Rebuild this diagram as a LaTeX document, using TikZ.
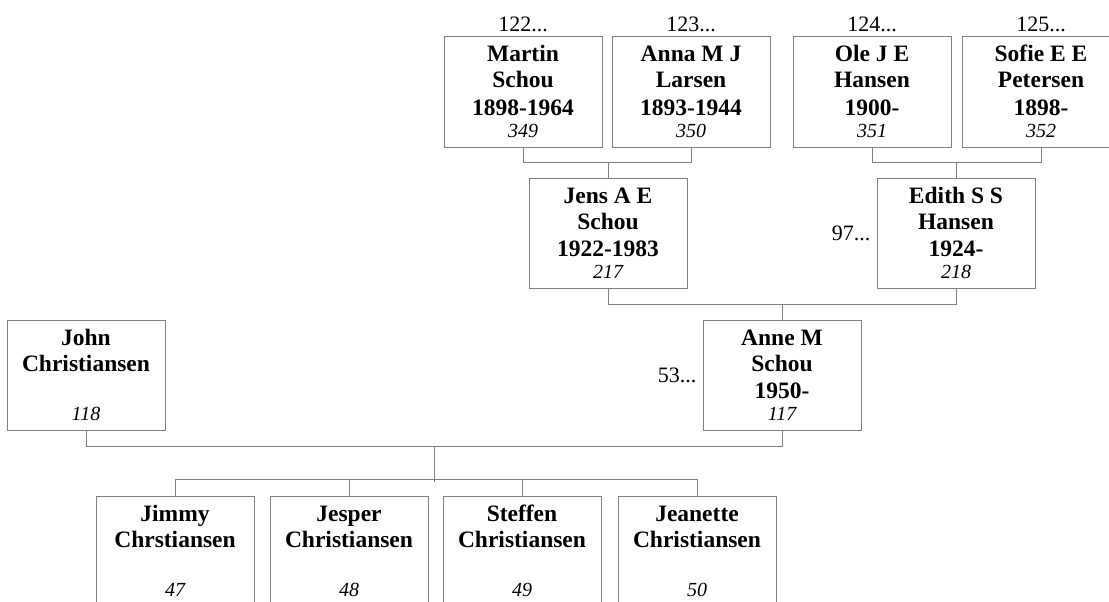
\documentclass[tikz,border=0pt]{standalone}
\usepackage{fontspec}
\setmainfont{Liberation Serif}
\usetikzlibrary{calc}
\definecolor{linegray}{RGB}{128,128,128}
\tikzset{
  pbox/.style={draw=linegray, line width=1pt, minimum width=158pt, minimum height=110pt, inner sep=0pt, fill=white},
  nm/.style={font=\fontsize{23.5}{26}\selectfont\bfseries, inner sep=0pt, anchor=base},
  num/.style={font=\fontsize{20}{24}\selectfont\itshape, inner sep=0pt, anchor=base},
  lbl/.style={font=\fontsize{22}{26}\selectfont, inner sep=0pt},
  conn/.style={draw=linegray, line width=1pt}
}
% #1 name, #2 left, #3 top, #4 #5 #6 lines, #7 number
\newcommand{\personbox}[7]{%
  \node[pbox] (#1) at ({#2+79},{#3+55}) {};
  \node[nm] (#1-a) at ({#2+79},{#3+25}) {#4};
  \node[nm] (#1-b) at ({#2+79},{#3+51}) {#5};
  \node[nm] (#1-c) at ({#2+79},{#3+78}) {#6};
  \node[num] (#1-d) at ({#2+79},{#3+100}) {#7};
}
\begin{document}
\begin{tikzpicture}[x=1pt,y=-1pt]
\useasboundingbox (0,0) rectangle (1109,602);
\clip (0,0) rectangle (1109,602);
% connectors (drawn first, boxes on top)
\personbox{martin}{444}{37}{Martin}{Schou}{1898-1964}{349}
\personbox{anna}{612}{37}{Anna M J}{Larsen}{1893-1944}{350}
\personbox{ole}{793}{37}{Ole J E}{Hansen}{1900-}{351}
\personbox{sofie}{962}{37}{Sofie E E}{Petersen}{1898-}{352}
\personbox{jens}{529}{178}{Jens A E}{Schou}{1922-1983}{217}
\personbox{edith}{877}{178}{Edith S S}{Hansen}{1924-}{218}
\personbox{anne}{703}{320}{Anne M}{Schou}{1950-}{117}
\personbox{john}{7}{320}{John}{Christiansen}{}{118}
\personbox{jimmy}{96}{496}{Jimmy}{Chrstiansen}{}{47}
\personbox{jesper}{270}{496}{Jesper}{Christiansen}{}{48}
\personbox{steffen}{443}{496}{Steffen}{Christiansen}{}{49}
\personbox{jeanette}{618}{496}{Jeanette}{Christiansen}{}{50}
% labels
\node[lbl, anchor=base] (l122) at ($(martin.north)+(0,-5)$) {122...};
\node[lbl, anchor=base] (l123) at ($(anna.north)+(0,-5)$) {123...};
\node[lbl, anchor=base] (l124) at ($(ole.north)+(0,-5)$) {124...};
\node[lbl, anchor=base] (l125) at ($(sofie.north)+(0,-5)$) {125...};
\node[lbl, anchor=east] (l97) at ($(edith.west)+(-6,0)$) {97...};
\node[lbl, anchor=east] (l53) at ($(anne.west)+(-6,0)$) {53...};
% connectors
\draw[conn] (martin.south) -- ++(0,15) -| (anna.south);
\draw[conn] (jens.north) -- ++(0,-16);
\draw[conn] (ole.south) -- ++(0,15) -| (sofie.south);
\draw[conn] (edith.north) -- ++(0,-16);
\draw[conn] (jens.south) -- ++(0,16) -| (edith.south);
\draw[conn] (anne.north) -- ++(0,-16);
\draw[conn] (john.south) -- ++(0,16) -| (anne.south);
\path (john.south) -- (anne.south) coordinate[midway] (parmid);
\coordinate (famtop) at ($(parmid)+(0,16)$);
\coordinate (fambot) at ($(parmid)+(0,51)$);
\draw[conn] (famtop) -- (fambot);
\draw[conn] (jimmy.north) -- ++(0,-16) -| (jeanette.north);
\draw[conn] (jesper.north) -- ++(0,-16);
\draw[conn] (steffen.north) -- ++(0,-16);
\end{tikzpicture}
\end{document}
